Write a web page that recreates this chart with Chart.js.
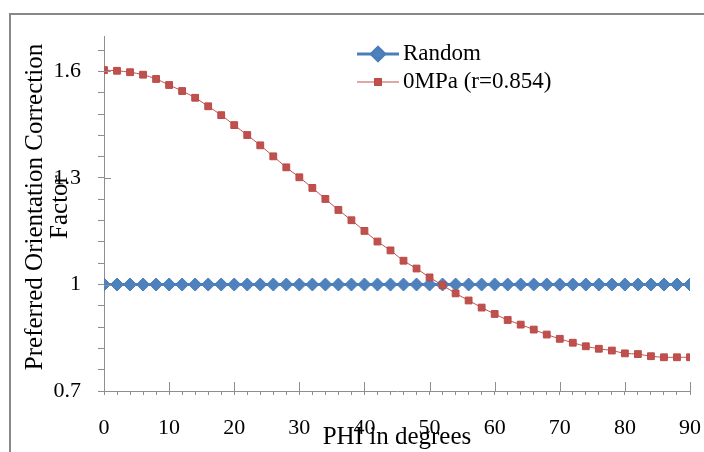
<!DOCTYPE html>
<html>
<head>
<meta charset="utf-8">
<script src="https://cdn.jsdelivr.net/npm/chart.js@4.4.1/dist/chart.umd.min.js"></script>
<style>
  html, body { margin: 0; padding: 0; background: #fff; }
  canvas { display: block; }
</style>
</head>
<body>
<canvas id="chartPhi" width="704" height="452"></canvas>
<script>
// Sudut PHI (sumbu x)
const phi = [0, 2, 4, 6, 8, 10, 12, 14, 16, 18, 20, 22, 24, 26, 28, 30, 32, 34, 36, 38, 40, 42, 44,
  46, 48, 50, 52, 54, 56, 58, 60, 62, 64, 66, 68, 70, 72, 74, 76, 78, 80, 82, 84, 86, 88, 90];

// Seri Random (garis datar di 1)
const randomValues = [1, 1, 1, 1, 1, 1, 1, 1, 1, 1, 1, 1, 1, 1, 1, 1, 1, 1, 1, 1, 1, 1, 1,
  1, 1, 1, 1, 1, 1, 1, 1, 1, 1, 1, 1, 1, 1, 1, 1, 1, 1, 1, 1, 1, 1, 1];

// Seri 0MPa (r=0.854)
const mpaValues = [1.604, 1.602, 1.598, 1.591, 1.579, 1.562, 1.545, 1.526, 1.502, 1.477, 1.449, 1.421,
  1.392, 1.361, 1.330, 1.302, 1.272, 1.241, 1.210, 1.181, 1.151, 1.121, 1.096, 1.067, 1.045, 1.020,
  0.998, 0.975, 0.955, 0.935, 0.917, 0.900, 0.887, 0.873, 0.859, 0.847, 0.836, 0.826, 0.819, 0.814,
  0.806, 0.804, 0.798, 0.795, 0.795, 0.795];

// Tick sumbu
const xMinorTicks = phi;
const xMajorTicks = [0, 10, 20, 30, 40, 50, 60, 70, 80, 90];
const yMinorTicks = [0.7, 0.76, 0.82, 0.88, 0.94, 1, 1.06, 1.12, 1.18, 1.24, 1.3, 1.36, 1.42, 1.48, 1.54, 1.6, 1.66];
const yMajorTicks = [0.7, 1, 1.3, 1.6];
const yMajorLabels = ['0.7', '1', '1.3', '1.6'];

const serif = '"Liberation Serif", "Times New Roman", serif';
const axisGray = '#8e8e8e';

function isMajor(list, v) {
  return list.findIndex((m) => Math.abs(m - v) < 1e-6);
}

// Plugin: bingkai, tick mayor ke dalam, judul sumbu y, dan legenda
const extrasPlugin = {
  id: 'extras',
  beforeDraw(chart) {
    const ctx = chart.ctx;
    ctx.save();
    ctx.fillStyle = '#fff';
    ctx.fillRect(0, 0, chart.width, chart.height);
    ctx.strokeStyle = '#888';
    ctx.lineWidth = 2;
    ctx.beginPath();
    ctx.moveTo(10, chart.height);
    ctx.lineTo(10, 14);
    ctx.lineTo(chart.width, 14);
    ctx.stroke();
    ctx.restore();
  },
  afterDraw(chart) {
    const ctx = chart.ctx;
    const xs = chart.scales.x;
    const ys = chart.scales.y;
    const area = chart.chartArea;
    ctx.save();
    ctx.strokeStyle = axisGray;
    ctx.lineWidth = 1;
    ctx.beginPath();
    xMajorTicks.forEach((v) => {
      const px = Math.round(xs.getPixelForValue(v)) + 0.5;
      ctx.moveTo(px, area.bottom);
      ctx.lineTo(px, area.bottom - 9);
    });
    yMajorTicks.forEach((v) => {
      const py = Math.round(ys.getPixelForValue(v)) + 0.5;
      ctx.moveTo(area.left, py);
      ctx.lineTo(area.left + 7, py);
    });
    ctx.stroke();

    // Judul sumbu y (dua baris)
    ctx.fillStyle = '#000';
    ctx.font = '25px ' + serif;
    ctx.textAlign = 'center';
    ctx.textBaseline = 'alphabetic';
    const titleLines = ['Preferred Orientation Correction', 'Factor'];
    const baseX = [42, 67];
    titleLines.forEach((t, i) => {
      ctx.save();
      ctx.translate(baseX[i], 207);
      ctx.rotate(-Math.PI / 2);
      ctx.fillText(t, 0, 0);
      ctx.restore();
    });

    // Legenda
    const rows = [54, 82];
    chart.data.datasets.slice().reverse().forEach((ds, i) => {
      const y = rows[i];
      ctx.strokeStyle = ds.borderColor;
      ctx.lineWidth = ds.borderWidth;
      ctx.beginPath();
      ctx.moveTo(357, y);
      ctx.lineTo(399, y);
      ctx.stroke();
      Chart.helpers.drawPoint(ctx, {
        pointStyle: ds.pointStyle,
        radius: ds.pointRadius,
        borderWidth: 1,
      }, 378, y);
      ctx.fillStyle = ds.pointBackgroundColor;
      ctx.strokeStyle = ds.pointBorderColor;
      ctx.fill();
      ctx.stroke();
      ctx.fillStyle = '#000';
      ctx.font = '23px ' + serif;
      ctx.textAlign = 'left';
      ctx.textBaseline = 'middle';
      ctx.fillText(ds.label, 403, y);
    });
    ctx.restore();
  },
};

const ctxPhi = document.getElementById('chartPhi').getContext('2d');
const chartPhi = new Chart(ctxPhi, {
  type: 'line',
  data: {
    datasets: [
      {
        label: '0MPa (r=0.854)',
        data: phi.map((p, i) => ({ x: p, y: mpaValues[i] })),
        borderColor: '#C0504D',
        borderWidth: 1,
        pointStyle: 'rect',
        pointRadius: 4.8,
        pointBackgroundColor: '#C0504D',
        pointBorderColor: '#B94A47',
        pointBorderWidth: 1,
        tension: 0.3,
        order: 1,
      },
      {
        label: 'Random',
        data: phi.map((p, i) => ({ x: p, y: randomValues[i] })),
        borderColor: '#4A7EBB',
        borderWidth: 3,
        pointStyle: 'rectRot',
        pointRadius: 6.5,
        pointBackgroundColor: '#4F81BD',
        pointBorderColor: '#4A7EBB',
        pointBorderWidth: 1,
        order: 2,
      },
    ],
  },
  options: {
    responsive: false,
    animation: false,
    events: [],
    layout: { padding: { top: 36, right: 14, left: 0, bottom: 0 } },
    plugins: {
      legend: { display: false },
      tooltip: { enabled: false },
    },
    scales: {
      x: {
        type: 'linear',
        min: 0,
        max: 90,
        afterBuildTicks: (scale) => { scale.ticks = xMinorTicks.map((v) => ({ value: v })); },
        afterFit: (scale) => {
          scale.height = 61;
          scale.paddingLeft = 0;
          scale.paddingRight = 0;
        },
        border: { color: axisGray, width: 1 },
        grid: { drawOnChartArea: false, drawTicks: true, tickLength: 4, color: axisGray },
        ticks: {
          autoSkip: false,
          maxRotation: 0,
          padding: 20,
          color: '#000',
          font: { family: serif, size: 22 },
          callback: (v) => (isMajor(xMajorTicks, v) >= 0 ? String(v) : ''),
        },
        title: {
          display: true,
          text: 'PHI in degrees',
          color: '#000',
          font: { family: serif, size: 25 },
          padding: { top: 0, bottom: 0 },
        },
      },
      y: {
        type: 'linear',
        min: 0.7,
        max: 1.7,
        afterBuildTicks: (scale) => { scale.ticks = yMinorTicks.map((v) => ({ value: v })); },
        afterFit: (scale) => {
          scale.width = 104;
          scale.paddingTop = 0;
          scale.paddingBottom = 0;
        },
        border: { color: axisGray, width: 1 },
        grid: { drawOnChartArea: false, drawTicks: true, tickLength: 6, color: axisGray },
        ticks: {
          autoSkip: false,
          padding: 17,
          color: '#000',
          font: { family: serif, size: 22 },
          callback: (v) => {
            const k = isMajor(yMajorTicks, v);
            return k >= 0 ? yMajorLabels[k] : '';
          },
        },
      },
    },
  },
  plugins: [extrasPlugin],
});
</script>
</body>
</html>
